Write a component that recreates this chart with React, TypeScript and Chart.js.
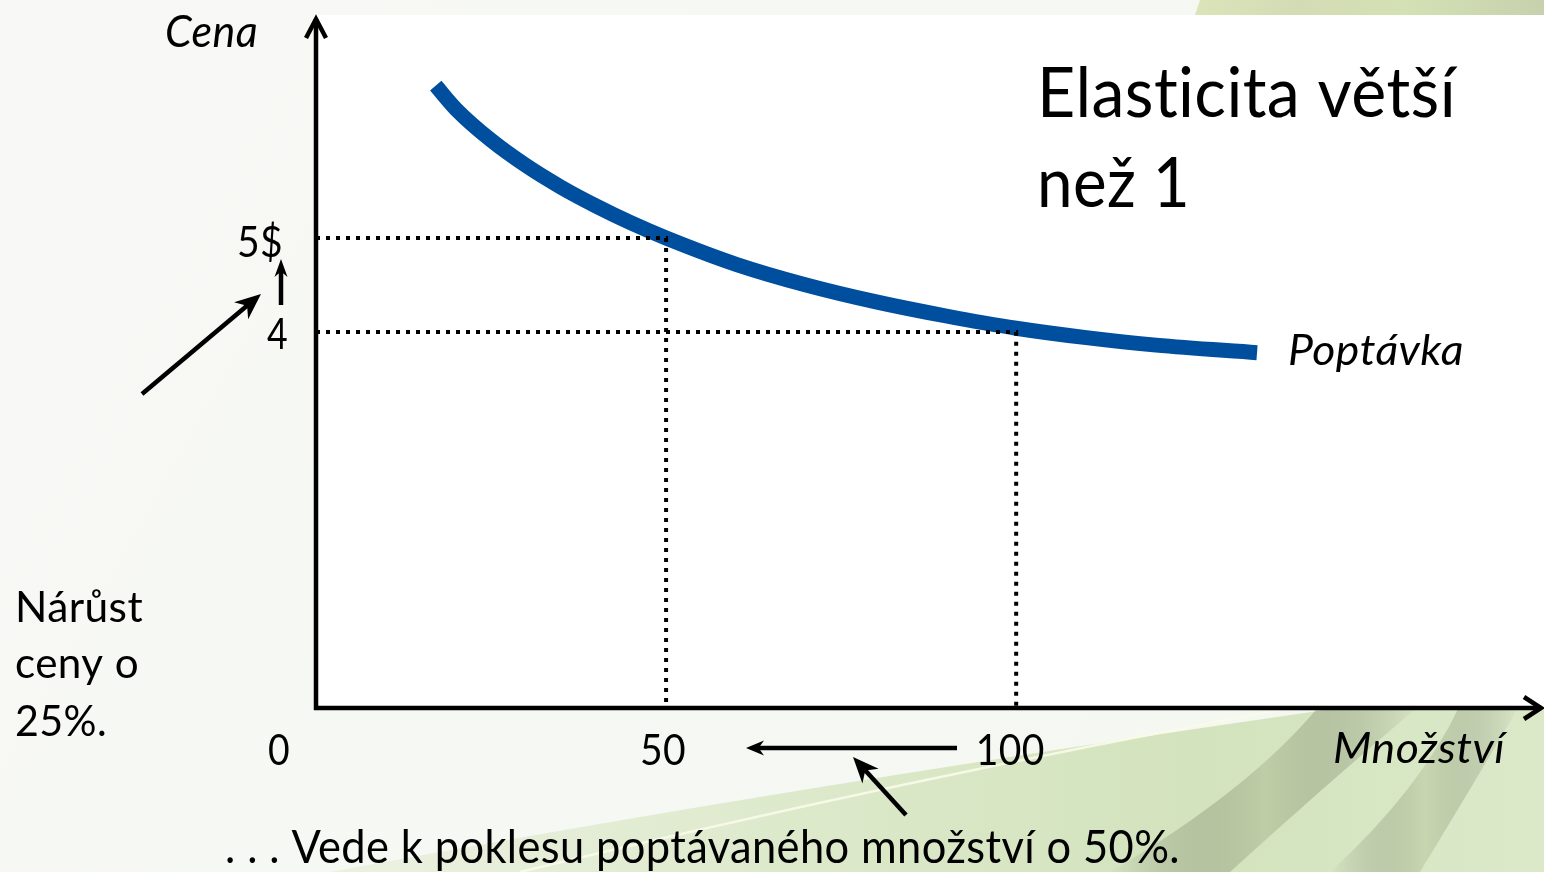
import React, { useEffect, useRef } from "react";
import { Chart, registerables } from "chart.js";

Chart.register(...registerables);

// ---- data ----
const demandQuantity = [17.1, 20, 25, 30, 35, 40, 45, 50, 60, 70, 80, 90, 100, 110, 120, 134.4];
const demandPrice = [6.62, 6.37, 6.04, 5.77, 5.54, 5.34, 5.16, 5.0, 4.72, 4.5, 4.32, 4.17, 4.04, 3.94, 3.86, 3.78];
const guideQuantities = [50, 100];
const guidePrices = [5, 4];
const xTickValues = [0, 50, 100];
const xTickLabels = ["0", "50", "100"];
const yTickValues = [5, 4];
const yTickLabels = ["5$", "4"];
const xAxisTitle = "Množství";
const yAxisTitle = "Cena";
const seriesName = "Poptávka";
const titleLines = ["Elasticita větší", "než 1"];
const leftNote = ["Nárůst", "ceny o", "25%."];
const bottomNote = ". . . Vede k poklesu poptávaného množství o 50%.";
const X_MAX = 175.1;
const Y_MAX = 7.34;

const FONT = 'Lato, "Open Sans", "DejaVu Sans", sans-serif';

function drawText(
  ctx: CanvasRenderingContext2D,
  s: string,
  x: number,
  base: number,
  size: number,
  width: number,
  align: "left" | "right" | "center",
  italic = false
) {
  ctx.save();
  ctx.font = `${italic ? "italic " : ""}${size}px ${FONT}`;
  try {
    (ctx as any).letterSpacing = "0.4px";
  } catch (e) {}
  const w = ctx.measureText(s).width || 1;
  const sx = width / w;
  const left = align === "left" ? x : align === "right" ? x - width : x - width / 2;
  ctx.translate(left, base);
  ctx.scale(sx, 1);
  ctx.textAlign = "left";
  ctx.textBaseline = "alphabetic";
  ctx.fillStyle = "#000";
  ctx.fillText(s, 0, 0);
  ctx.restore();
}

function arrow(
  ctx: CanvasRenderingContext2D,
  x1: number,
  y1: number,
  x2: number,
  y2: number,
  headLen = 18,
  headW = 14,
  lw = 4
) {
  const ang = Math.atan2(y2 - y1, x2 - x1);
  const ux = Math.cos(ang);
  const uy = Math.sin(ang);
  const bx = x2 - ux * headLen;
  const by = y2 - uy * headLen;
  ctx.save();
  ctx.strokeStyle = "#000";
  ctx.fillStyle = "#000";
  ctx.lineWidth = lw;
  ctx.beginPath();
  ctx.moveTo(x1, y1);
  ctx.lineTo(x2 - ux * headLen * 0.6, y2 - uy * headLen * 0.6);
  ctx.stroke();
  const px = -uy * headW / 2;
  const py = ux * headW / 2;
  ctx.beginPath();
  ctx.moveTo(x2, y2);
  ctx.lineTo(bx + px, by + py);
  ctx.lineTo(bx + ux * headLen * 0.3, by + uy * headLen * 0.3);
  ctx.lineTo(bx - px, by - py);
  ctx.closePath();
  ctx.fill();
  ctx.restore();
}

const decorPlugin = {
  id: "decor",
  beforeDraw(chart: any) {
    const { ctx, width, height, chartArea } = chart;
    ctx.save();
    // base background
    const bg = ctx.createLinearGradient(0, 0, width, height);
    bg.addColorStop(0, "#f8f9f6");
    bg.addColorStop(1, "#f4f7f0");
    ctx.fillStyle = bg;
    ctx.fillRect(0, 0, width, height);

    // top strip
    const top = ctx.createLinearGradient(1190, 0, width, 0);
    top.addColorStop(0, "#dbe5b9");
    top.addColorStop(0.3, "#d3dbb4");
    top.addColorStop(0.6, "#d4e1b4");
    top.addColorStop(1, "#c7d1ad");
    ctx.fillStyle = top;
    ctx.beginPath();
    ctx.moveTo(1200, 0);
    ctx.lineTo(width, 0);
    ctx.lineTo(width, 15);
    ctx.lineTo(1195, 15);
    ctx.closePath();
    ctx.fill();

    // bottom green swoosh
    const g = ctx.createLinearGradient(380, 0, width, 0);
    g.addColorStop(0, "#eaf1df");
    g.addColorStop(0.35, "#dde9cb");
    g.addColorStop(0.7, "#d3e3bd");
    g.addColorStop(1, "#dbe9c9");
    ctx.fillStyle = g;
    ctx.beginPath();
    ctx.moveTo(330, height);
    ctx.quadraticCurveTo(800, 785, 1360, 705);
    ctx.lineTo(width, 705);
    ctx.lineTo(width, height);
    ctx.closePath();
    ctx.fill();

    // light edge stripe
    ctx.strokeStyle = "rgba(248,251,232,0.9)";
    ctx.lineWidth = 2.5;
    ctx.beginPath();
    ctx.moveTo(520, height);
    ctx.quadraticCurveTo(900, 780, 1280, 710);
    ctx.stroke();

    // soft darker diagonal bands
    const band = (x0: number, x1: number, cx0: number, cx1: number, xt0: number, xt1: number, col: string) => {
      const lg = ctx.createLinearGradient(x0, 0, x1 + (xt1 - x1), 0);
      lg.addColorStop(0, "rgba(0,0,0,0)");
      lg.addColorStop(0.5, col);
      lg.addColorStop(1, "rgba(0,0,0,0)");
      ctx.fillStyle = lg;
      ctx.beginPath();
      ctx.moveTo(x0, height);
      ctx.quadraticCurveTo(cx0, 790, xt0, 705);
      ctx.lineTo(xt1, 705);
      ctx.quadraticCurveTo(cx1, 790, x1, height);
      ctx.closePath();
      ctx.fill();
    };
    band(1110, 1230, 1250, 1320, 1320, 1420, "rgba(165,178,135,0.45)");
    band(1330, 1420, 1420, 1470, 1460, 1520, "rgba(175,190,145,0.4)");

    // white plot panel
    ctx.fillStyle = "#ffffff";
    ctx.fillRect(chartArea.left, 15, width - chartArea.left, chartArea.bottom - 15);
    ctx.restore();
  },
  afterDatasetsDraw(chart: any) {
    const { ctx, chartArea, scales } = chart;
    const xs = scales.x;
    const ys = scales.y;
    const x0 = xs.getPixelForValue(0);
    const y0 = ys.getPixelForValue(0);
    const xEnd = chartArea.right;
    const yEnd = chartArea.top;
    ctx.save();
    ctx.strokeStyle = "#000";
    ctx.lineWidth = 4.5;
    ctx.lineCap = "butt";
    ctx.beginPath();
    ctx.moveTo(x0, y0 + 2);
    ctx.lineTo(x0, yEnd + 1);
    ctx.moveTo(x0 - 2, y0);
    ctx.lineTo(xEnd - 1, y0);
    ctx.stroke();
    // open arrowheads
    ctx.lineJoin = "miter";
    ctx.beginPath();
    ctx.moveTo(x0 - 10, yEnd + 20);
    ctx.lineTo(x0, yEnd + 1);
    ctx.lineTo(x0 + 10, yEnd + 20);
    ctx.stroke();
    ctx.beginPath();
    ctx.moveTo(xEnd - 18, y0 - 11);
    ctx.lineTo(xEnd - 1, y0);
    ctx.lineTo(xEnd - 18, y0 + 11);
    ctx.stroke();
    ctx.restore();

    // tick labels
    const xOff = [-37, -3, -6];
    const xW = [22, 46, 69];
    xTickValues.forEach((v, i) => {
      drawText(ctx, xTickLabels[i], xs.getPixelForValue(v) + xOff[i], y0 + 57, 43, xW[i], "center");
    });
    const yRight = [283, 288];
    const yW = [46, 21];
    const yOff = [19, 17];
    yTickValues.forEach((v, i) => {
      drawText(ctx, yTickLabels[i], yRight[i], ys.getPixelForValue(v) + yOff[i], 42, yW[i], "right");
    });

    // axis titles and texts
    drawText(ctx, yAxisTitle, 165, 47, 44, 93, "left", true);
    drawText(ctx, xAxisTitle, 1333, 763, 42, 172, "left", true);
    drawText(ctx, seriesName, 1288, 365, 42, 176, "left", true);
    drawText(ctx, titleLines[0], 1037, 117, 70, 419, "left");
    drawText(ctx, titleLines[1], 1037, 207, 70, 153, "left");
    drawText(ctx, leftNote[0], 15, 622, 42, 128, "left");
    drawText(ctx, leftNote[1], 15, 678, 42, 124, "left");
    drawText(ctx, leftNote[2], 15, 736, 42, 92, "left");
    drawText(ctx, bottomNote, 225, 863, 46, 955, "left");

    // annotation arrows
    arrow(ctx, 281, 305, 281, 259, 18, 13, 4.5);
    arrow(ctx, 142, 394, 261, 294, 26, 22, 4.5);
    arrow(ctx, 957, 748, 746, 748, 18, 15, 4.5);
    arrow(ctx, 906, 815, 853, 757, 26, 22, 4.5);
  },
};

export default function App() {
  const ref = useRef<HTMLCanvasElement | null>(null);
  useEffect(() => {
    document.body.style.margin = "0";
    const canvas = ref.current;
    if (!canvas) return;
    const demand = demandQuantity.map((q, i) => ({ x: q, y: demandPrice[i] }));
    const guides = guideQuantities.map((q, i) => ({
      label: `guide-${i}`,
      data: [
        { x: 0, y: guidePrices[i] },
        { x: q, y: guidePrices[i] },
        { x: q, y: 0 },
      ],
      borderColor: "#000000",
      borderWidth: 4,
      borderDash: [4, 6],
      borderCapStyle: "butt",
      pointRadius: 0,
      fill: false,
      tension: 0,
    }));
    const chart = new Chart(canvas, {
      type: "line",
      data: {
        datasets: [
          ...guides,
          {
            label: seriesName,
            data: demand,
            borderColor: "#004f9f",
            borderWidth: 15,
            borderCapStyle: "butt",
            borderJoinStyle: "round",
            pointRadius: 0,
            fill: false,
            cubicInterpolationMode: "monotone",
          },
        ],
      } as any,
      options: {
        responsive: false,
        animation: false,
        events: [],
        layout: { padding: { left: 316, top: 18, right: 2, bottom: 164 } },
        plugins: {
          legend: { display: false },
          tooltip: { enabled: false },
          title: { display: false },
        },
        scales: {
          x: { type: "linear", min: 0, max: X_MAX, display: false },
          y: { type: "linear", min: 0, max: Y_MAX, display: false },
        },
      } as any,
      plugins: [decorPlugin],
    });
    return () => chart.destroy();
  }, []);
  return (
    <div style={{ position: "absolute", left: 0, top: 0, width: 1544, height: 872 }}>
      <canvas ref={ref} width={1544} height={872} style={{ display: "block", width: 1544, height: 872 }} />
    </div>
  );
}
